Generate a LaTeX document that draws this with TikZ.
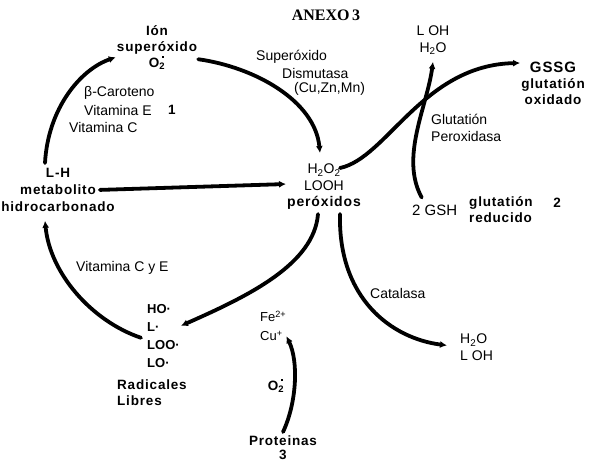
\documentclass[tikz,border=0pt]{standalone}
\usepackage{fontspec}
\setmainfont{Liberation Sans}
\newfontfamily\titlefont{Liberation Serif}
\newfontfamily\widefont[LetterSpace=6]{Liberation Sans}
\newcommand{\radot}{\llap{\raisebox{1.3ex}{\rule{1.7pt}{1.7pt}}\hspace{1.5pt}}}
\usetikzlibrary{arrows.meta}
\tikzset{
  txt/.style={font=\fontsize{14}{16.5}\selectfont, inner sep=1pt},
  bld/.style={font=\widefont\bfseries\fontsize{13.5}{16}\selectfont, inner sep=1pt},
  flecha/.style={-{Latex[length=7pt,width=7pt]}, line width=3.8pt, line cap=round}
}
\begin{document}
\begin{tikzpicture}[x=1pt,y=-1pt]
\useasboundingbox (0,0) rectangle (589,463);
\node[anchor=base] (title) at (326,20) {\titlefont\bfseries\fontsize{16}{18}\selectfont ANEXO\,3};
\node[bld, align=center, anchor=north] (sup) at (157,24) {Ión\\superóxido\\O\textsubscript{2}\radot};
\node[txt, anchor=west] (carot) at (83,93) {β-Caroteno};
\node[txt, anchor=west] (vitE) at (83,110) {Vitamina E};
\node[bld] (one) at (172,110) {1};
\node[txt, anchor=west] (vitC) at (68,127) {Vitamina C};
\node[txt, anchor=west] (sod1) at (255,57) {Superóxido};
\node[txt, anchor=west] (sod2) at (281,73) {Dismutasa};
\node[txt, anchor=west] (sod3) at (293,89) {(Cu,Zn,Mn)};
\node[bld, align=center, anchor=north] (LH) at (58,167) {L-H\\[1pt]metabolito\\[1pt]hidrocarbonado};
\node[txt, align=center, anchor=north] (perox) at (324,163) {H\textsubscript{2}O\textsubscript{2}\\LOOH\\{\widefont\bfseries peróxidos}};
\node[txt, align=center, anchor=north] (LOH) at (433,25) {L OH\\H\textsubscript{2}O};
\node[bld, align=center, anchor=north] (GSSG) at (553,61) {{\bfseries\fontsize{15}{16}\selectfont GSSG}\\glutatión\\oxidado};
\node[txt, align=left, anchor=north west] (gpx) at (430,113) {Glutatión\\Peroxidasa};
\node[txt, anchor=west, font=\fontsize{15}{16}\selectfont] (gsh) at (411,210) {2 GSH};
\node[bld, align=left, anchor=north west] (gred) at (468,195) {glutatión\\reducido};
\node[bld] (two) at (557,203) {2};
\node[txt, anchor=west] (vitCE) at (75,268) {Vitamina C y E};
\node[bld, align=left, anchor=north west, font=\bfseries\fontsize{13}{18}\selectfont] (rad) at (146,303) {HO·\\L·\\LOO·\\LO·};
\node[bld, align=left, anchor=north west] (radlib) at (116,379) {Radicales\\Libres};
\node[txt, align=left, anchor=north west, font=\fontsize{13}{19}\selectfont] (metal) at (259,310) {Fe\textsuperscript{2+}\\Cu\textsuperscript{+}};
\node[bld] (otwo) at (276,386) {O\textsubscript{2}\radot};
\node[bld, align=center, anchor=north, font=\widefont\bfseries\fontsize{13.5}{14}\selectfont] (prot) at (283,435) {Proteinas\\3};
\node[txt, anchor=west] (cat) at (369,293) {Catalasa};
\node[txt, align=left, anchor=north west] (wat) at (459,333) {H\textsubscript{2}O\\L OH};
\draw[flecha] ([xshift=-13pt,yshift=4pt]LH.north) .. controls +(3,-55) and +(-35,12) .. ([yshift=-10pt]sup.west);
\draw[flecha] ([yshift=-12pt]sup.east) .. controls +(57,8) and +(-5,-52) .. ([xshift=-4pt,yshift=10pt]perox.north);
\draw[flecha] ([xshift=-16pt]LH.east) -- ([yshift=3pt]perox.west);
\draw[flecha] ([xshift=-22pt,yshift=-5pt]perox.north east) .. controls +(47,-10) and +(-97,2) .. ([yshift=-2pt]GSSG.north west);
\draw[flecha] ([xshift=-13pt,yshift=6pt]gsh.north) .. controls +(-22,-40) and +(-6,45) .. ([yshift=-6pt]LOH.south);
\draw[flecha] ([xshift=-6pt,yshift=-3pt]perox.south) .. controls +(-4,50) and +(68,-30) .. ([yshift=10pt]rad.east);
\draw[flecha] ([xshift=-5pt,yshift=-2pt]rad.west) .. controls +(-50,-17) and +(5,52) .. ([xshift=-13pt,yshift=-8pt]LH.south);
\draw[flecha] ([yshift=3pt]prot.north) .. controls +(14,-30) and +(12,25) .. ([xshift=-1pt,yshift=6pt]metal.south east);
\draw[flecha] ([xshift=16pt,yshift=-3pt]perox.south) .. controls +(-2,85) and +(-55,-7) .. ([xshift=-12pt,yshift=2pt]wat.west);
\end{tikzpicture}
\end{document}
